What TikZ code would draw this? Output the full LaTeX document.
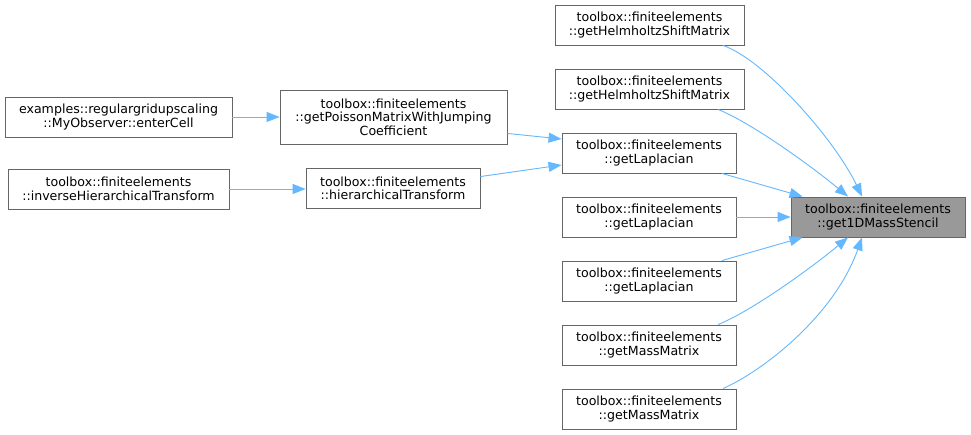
\documentclass[tikz,border=0pt]{standalone}
\usepackage{fontspec}
\setmainfont{DejaVu Sans}
\usetikzlibrary{arrows.meta,calc}
\definecolor{edgecol}{HTML}{63B8FF}
\definecolor{bordercol}{HTML}{666666}
\definecolor{targetfill}{HTML}{999999}
\tikzset{
  fn/.style={draw=bordercol, line width=0.9pt, fill=white, align=center, inner sep=0pt,
    minimum height=40pt, font=\fontsize{12.6}{13.4}\selectfont},
  tgt/.style={fn, fill=targetfill},
  edge/.style={draw=edgecol, line width=0.9pt, -{Triangle[length=13pt,width=10pt,fill=edgecol]}},
}
\begin{document}
\begin{tikzpicture}[x=1pt,y=-1pt]
\useasboundingbox (0,0) rectangle (971,435);
\fill[white] (0,0) rectangle (971,435);
\node[tgt, minimum width=174pt] (T) at (878,217) {toolbox::finiteelements\\::get1DMassStencil};
\node[fn, minimum width=189pt] (H1) at (649.5,25) {toolbox::finiteelements\\::getHelmholtzShiftMatrix};
\node[fn, minimum width=189pt] (H2) at (649.5,89) {toolbox::finiteelements\\::getHelmholtzShiftMatrix};
\node[fn, minimum width=174pt] (L1) at (649,153) {toolbox::finiteelements\\::getLaplacian};
\node[fn, minimum width=174pt] (L2) at (649,217) {toolbox::finiteelements\\::getLaplacian};
\node[fn, minimum width=174pt] (L3) at (649,281) {toolbox::finiteelements\\::getLaplacian};
\node[fn, minimum width=174pt] (M1) at (649,345) {toolbox::finiteelements\\::getMassMatrix};
\node[fn, minimum width=174pt] (M2) at (649,409) {toolbox::finiteelements\\::getMassMatrix};
\node[fn, minimum width=227pt, minimum height=54pt] (P) at (393.5,117) {toolbox::finiteelements\\::getPoissonMatrixWithJumping\\Coefficient};
\node[fn, minimum width=174pt] (HT) at (393,188.5) {toolbox::finiteelements\\::hierarchicalTransform};
\node[fn, minimum width=227pt] (E) at (118.5,117) {examples::regulargridupscaling\\::MyObserver::enterCell};
\node[fn, minimum width=221pt] (I) at (118.5,189) {toolbox::finiteelements\\::inverseHierarchicalTransform};

\draw[edge] ($(H1.south)+(73.5,0)$) .. controls (765,60) and (835,140) .. ($(T.north)+(-16,0)$);
\draw[edge] ($(H2.south)+(68.5,0)$) .. controls (750,122) and (810,165) .. ($(T.north)+(-30,0)$);
\draw[edge] ($(L1.south)+(73,0)$) -- ($(T.north west)+(12,0)$);
\draw[edge] (L2.east) -- (T.west);
\draw[edge] ($(L3.north)+(73,0)$) -- ($(T.south west)+(12,0)$);
\draw[edge] ($(M1.north)+(69,0)$) .. controls (750,312) and (810,269) .. ($(T.south)+(-30,0)$);
\draw[edge] ($(M2.north)+(74,0)$) .. controls (765,370) and (835,314) .. ($(T.south)+(-16,0)$);
\draw[edge] ($(P.south east)+(0,-11)$) -- ($(L1.west)+(0,-14)$);
\draw[edge] ($(HT.north east)+(0,8.5)$) -- ($(L1.west)+(0,12)$);
\draw[edge] (E.east) -- (P.west |- E.east);
\draw[edge] (I.east) -- (HT.west |- I.east);
\end{tikzpicture}
\end{document}
